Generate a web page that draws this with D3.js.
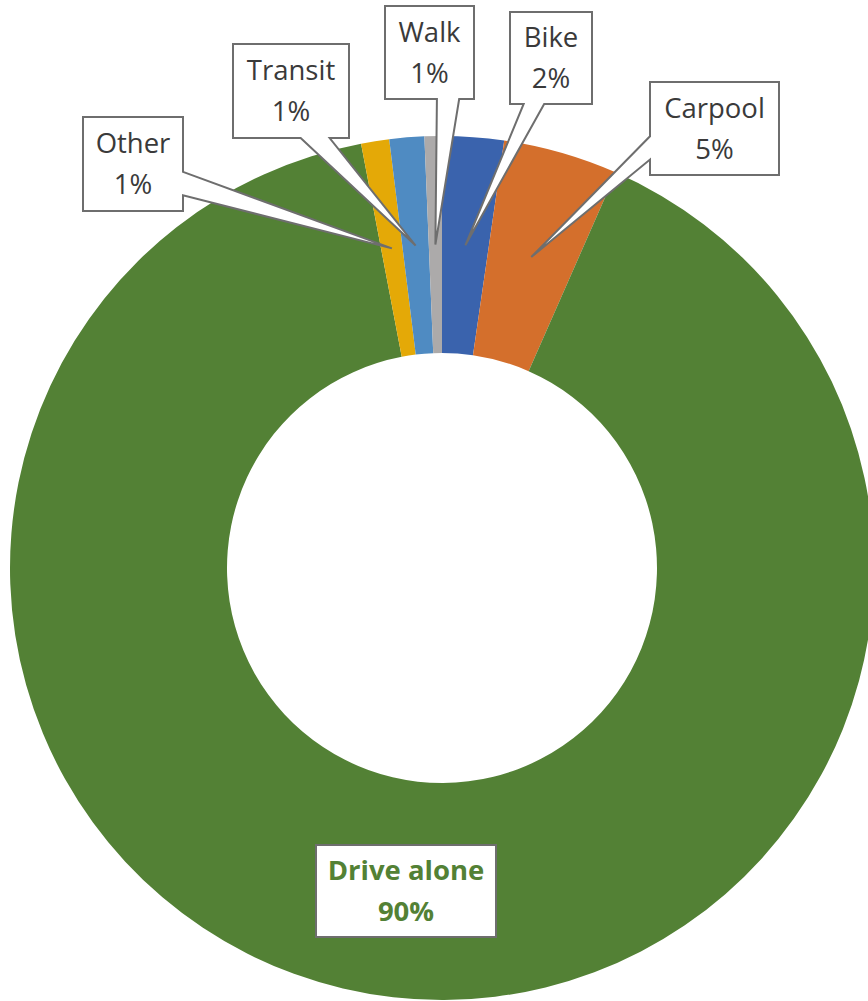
<!DOCTYPE html>
<html>
<head>
<meta charset="utf-8">
<script src="https://d3js.org/d3.v7.min.js"></script>
<style>
  body { margin: 0; background: #fff; }
  svg text { font-family: "Open Sans", "Noto Sans", sans-serif; }
</style>
</head>
<body>
<script>
  // data, in Excel's (alphabetical) order, starting at 12 o'clock clockwise
  var modes = ["Bike", "Carpool", "Drive alone", "Other", "Transit", "Walk"];
  var shares = [2.3, 4.3, 90.4, 1.05, 1.3, 0.65];
  var pctText = ["2%", "5%", "90%", "1%", "1%", "1%"];
  var colors = ["#3a63ad", "#d46f2c", "#538135", "#e4a907", "#4f8bc2", "#acaaaa"];

  // where each callout box sits (layout only)
  var boxes = {
    "Bike":        {x: 510, y: 12,  w: 82,  h: 92},
    "Carpool":     {x: 650, y: 82,  w: 129, h: 93},
    "Drive alone": {x: 316, y: 845, w: 180, h: 92, noPointer: true},
    "Other":       {x: 83,  y: 117, w: 100, h: 94},
    "Transit":     {x: 233, y: 44,  w: 116, h: 94},
    "Walk":        {x: 385, y: 6,   w: 89,  h: 93}
  };

  var width = 868, height = 1001;
  var cx = 442, cy = 568, outerR = 432, innerR = 215;

  var svg = d3.select("body").append("svg")
      .attr("width", width)
      .attr("height", height);

  var data = modes.map(function(m, i) {
    return {mode: m, value: shares[i], pct: pctText[i], color: colors[i]};
  });

  var pie = d3.pie().sort(null).value(function(d) { return d.value; });
  var arc = d3.arc().innerRadius(innerR).outerRadius(outerR);
  var arcs = pie(data);

  var g = svg.append("g").attr("transform", "translate(" + cx + "," + cy + ")");

  g.selectAll("path.slice")
    .data(arcs)
    .enter().append("path")
      .attr("class", "slice")
      .attr("d", arc)
      .attr("fill", function(d) { return d.data.color; });

  // Excel-ish wedge callout: rectangle with a pointer to the tip
  function calloutPath(b, tx, ty) {
    var x = b.x, y = b.y, w = b.w, h = b.h;
    if (b.noPointer) {
      return "M" + x + "," + y + "H" + (x + w) + "V" + (y + h) + "H" + x + "Z";
    }
    var bcx = x + w / 2, bcy = y + h / 2;
    var rx = (tx - bcx) / w, ry = (ty - bcy) / h;
    var p = [];
    if (Math.abs(ry) > Math.abs(rx)) {
      var a = tx > bcx ? 7 / 12 : 2 / 12, e = tx > bcx ? 10 / 12 : 5 / 12;
      if (ry > 0) {
        p = [[x, y], [x + w, y], [x + w, y + h], [x + w * e, y + h], [tx, ty], [x + w * a, y + h], [x, y + h]];
      } else {
        p = [[x, y], [x + w * a, y], [tx, ty], [x + w * e, y], [x + w, y], [x + w, y + h], [x, y + h]];
      }
    } else {
      var a2 = ty > bcy ? 7 / 12 : 2 / 12, e2 = ty > bcy ? 10 / 12 : 5 / 12;
      if (rx > 0) {
        p = [[x, y], [x + w, y], [x + w, y + h * a2], [tx, ty], [x + w, y + h * e2], [x + w, y + h], [x, y + h]];
      } else {
        p = [[x, y], [x + w, y], [x + w, y + h], [x, y + h], [x, y + h * e2], [tx, ty], [x, y + h * a2]];
      }
    }
    return "M" + p.map(function(q) { return q[0] + "," + q[1]; }).join("L") + "Z";
  }

  var fs = 27.5;
  var labels = svg.selectAll("g.label")
    .data(arcs)
    .enter().append("g")
      .attr("class", "label");

  labels.append("path")
    .attr("d", function(d) {
      var c = arc.centroid(d);
      return calloutPath(boxes[d.data.mode], cx + c[0], cy + c[1]);
    })
    .attr("fill", "#fff")
    .attr("stroke", "#6e6e6e")
    .attr("stroke-width", 2)
    .attr("stroke-linejoin", "miter");

  labels.each(function(d) {
    var b = boxes[d.data.mode];
    var isMain = d.data.mode === "Drive alone";
    var t = d3.select(this).append("text")
      .attr("text-anchor", "middle")
      .style("font-size", fs + "px")
      .style("font-weight", isMain ? "bold" : "normal")
      .attr("fill", isMain ? "#538135" : "#3a3a3a");
    var mx = b.x + b.w / 2, my = b.y + b.h / 2;
    t.append("tspan").attr("x", mx).attr("y", my - 11).text(d.data.mode);
    t.append("tspan").attr("x", mx).attr("y", my + 30).text(d.data.pct);
  });
</script>
</body>
</html>
